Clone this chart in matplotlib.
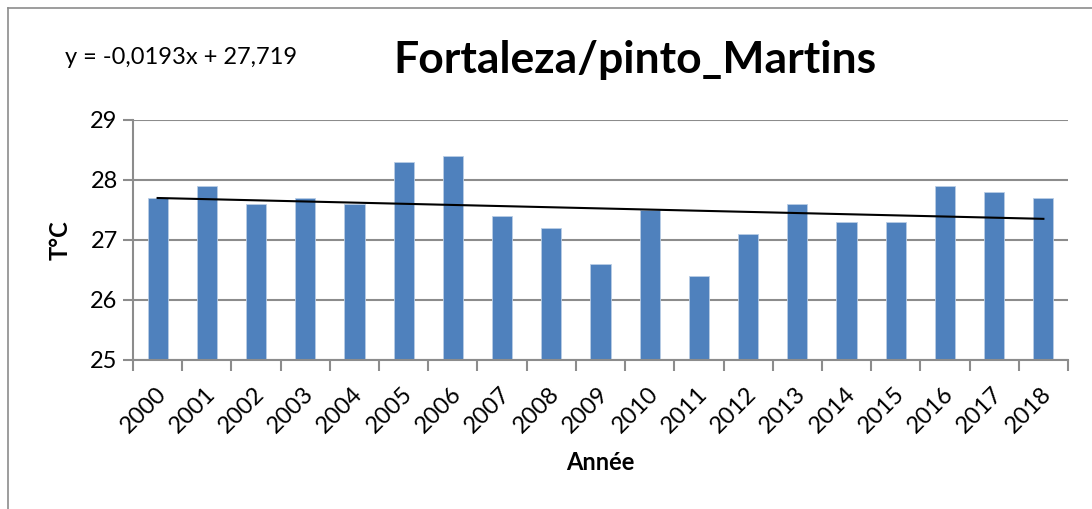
import numpy as np
import matplotlib
matplotlib.use('Agg')
import matplotlib.pyplot as plt
import matplotlib.transforms as mtransforms
from matplotlib.lines import Line2D

# data
years = ['2000', '2001', '2002', '2003', '2004', '2005', '2006', '2007', '2008', '2009',
         '2010', '2011', '2012', '2013', '2014', '2015', '2016', '2017', '2018']
temps = [27.7, 27.9, 27.6, 27.7, 27.6, 28.3, 28.4, 27.4, 27.2, 26.6,
         27.5, 26.4, 27.1, 27.6, 27.3, 27.3, 27.9, 27.8, 27.7]
y_ticks = [25, 26, 27, 28, 29]
equation = 'y = -0,0193x + 27,719'
title = 'Fortaleza/pinto_Martins'

plt.rcParams['font.family'] = ['Lato', 'DejaVu Sans']

W, H = 1092, 509
fig = plt.figure(figsize=(W / 100, H / 100), dpi=100)
ax = fig.add_axes([133 / W, 1 - 360 / H, (1068 - 133) / W, 240 / H])

x = np.arange(1, len(years) + 1)
ax.bar(x, temps, width=0.41, color='#4F81BD', edgecolor='#B9CDE5', linewidth=0.6, zorder=2)

# linear trend (Excel style, x = 1..n)
slope, intercept = np.polyfit(x, temps, 1)
ax.plot([x[0], x[-1]], [slope * x[0] + intercept, slope * x[-1] + intercept],
        color='black', linewidth=1.5, zorder=3)

ax.set_xlim(0.5, len(years) + 0.5)
ax.set_ylim(25, 29)
ax.set_yticks(y_ticks)
ax.set_yticklabels([str(v) for v in y_ticks], fontsize=17)
ax.yaxis.grid(True, color='#8C8C8C', linewidth=1.5, zorder=0)
ax.set_axisbelow(True)

ax.set_xticks(np.arange(0.5, len(years) + 1.0), minor=False)
ax.set_xticklabels([])
ax.set_xticks(x, minor=True)
ax.set_xticklabels(years, minor=True, rotation=45, ha='right', va='center',
                   rotation_mode='anchor', fontsize=17)
ax.tick_params(axis='x', which='major', length=8, width=1.5, color='#8C8C8C')
ax.tick_params(axis='x', which='minor', length=0, pad=22)
ax.tick_params(axis='y', length=7, width=1.5, color='#8C8C8C', pad=4)
shift = mtransforms.ScaledTranslation(5 / 100, 0, fig.dpi_scale_trans)
for lab in ax.get_xticklabels(minor=True):
    lab.set_transform(lab.get_transform() + shift)

for side in ['top', 'right']:
    ax.spines[side].set_visible(False)
for side in ['left', 'bottom']:
    ax.spines[side].set_color('#8C8C8C')
    ax.spines[side].set_linewidth(1.5)

fig.text(60 / W, 1 - 240 / H, 'T°C', rotation=90, ha='center', va='center',
         fontsize=17, fontweight='bold')
fig.text(600 / W, 1 - 463 / H, 'Année', ha='center', va='center',
         fontsize=17, fontweight='bold')
fig.text(635 / W, 1 - 60 / H, title, ha='center', va='center',
         fontsize=32, fontweight='bold')
fig.text(181 / W, 1 - 57 / H, equation, ha='center', va='center', fontsize=17)

# outer chart area border (only top and left visible in the crop)
fig.add_artist(Line2D([8 / W, 1], [1 - 8 / H, 1 - 8 / H], color='#8C8C8C', linewidth=1.2))
fig.add_artist(Line2D([8 / W, 8 / W], [1 - 8 / H, 0], color='#8C8C8C', linewidth=1.2))

fig.savefig('out.png', dpi=100)
